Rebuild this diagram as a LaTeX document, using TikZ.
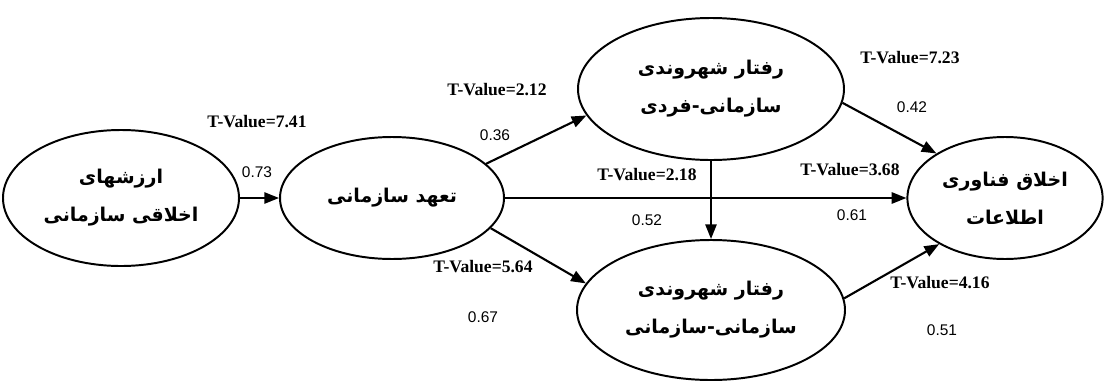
\documentclass[tikz,border=0pt]{standalone}
\usepackage{fontspec}
\setmainfont{Liberation Serif}
\newfontfamily\numfont{Liberation Sans}
\newfontfamily\arabicfont[Script=Arabic]{DejaVu Sans}
\TeXXeTstate=1
\usetikzlibrary{shapes.geometric,arrows.meta}
\tikzset{
	factor/.style={ellipse, draw, line width=1.4pt, inner sep=0pt, align=center, font=\arabicfont\bfseries\fontsize{13.5}{27}\selectfont},
	effect/.style={-{Triangle[length=10.5pt,width=8pt]}, line width=1.5pt},
	tval/.style={font=\bfseries\fontsize{12.5}{0}\selectfont},
	coef/.style={font=\numfont\fontsize{11}{0}\selectfont}
}
\begin{document}
\begin{tikzpicture}
		\useasboundingbox (0,0) rectangle (27.625,-9.55);

		\node[factor, minimum width=5.9cm, minimum height=3.4cm] (values) at (3.025,-4.95) {\beginR ارزشهای\endR\\\beginR اخلاقی سازمانی\endR};
		\node[factor, minimum width=5.6cm, minimum height=3.05cm] (commit) at (9.8,-4.95) {\beginR تعهد سازمانی\endR};
		\node[factor, minimum width=6.65cm, minimum height=3.55cm] (ocbi) at (17.775,-2.225) {\beginR رفتار شهروندی\endR\\\beginR سازمانی-فردی\endR};
		\node[factor, minimum width=6.7cm, minimum height=3.5cm] (ocbo) at (17.775,-7.75) {\beginR رفتار شهروندی\endR\\\beginR سازمانی-سازمانی\endR};
		\node[factor, minimum width=4.88cm, minimum height=3.05cm] (ethics) at (25.125,-4.95) {\beginR اخلاق فناوری\endR\\\beginR اطلاعات\endR};

		\draw[effect] (values.east) -- (commit.west);
		\draw[effect] (commit.20) -- (ocbi.192);
		\draw[effect] (commit.east) -- (ethics.west);
		\draw[effect] (commit.-17) -- (ocbo.168);
		\draw[effect] (ocbi.south) -- (ocbo.north);
		\draw[effect] (ocbi.-6) -- (ethics.147);
		\draw[effect] (ocbo.5) -- (ethics.215);

		\node[tval] (tv741) at (6.425,-3.05) {T-Value=7.41};
		\node[coef] (c073) at (6.425,-4.3) {0.73};
		\node[tval] (tv212) at (12.425,-2.25) {T-Value=2.12};
		\node[coef] (c036) at (12.375,-3.375) {0.36};
		\node[tval] (tv723) at (22.75,-1.45) {T-Value=7.23};
		\node[coef] (c042) at (22.8,-2.675) {0.42};
		\node[tval] (tv218) at (16.175,-4.375) {T-Value=2.18};
		\node[coef] (c052) at (16.175,-5.5) {0.52};
		\node[tval] (tv368) at (21.25,-4.25) {T-Value=3.68};
		\node[coef] (c061) at (21.3,-5.375) {0.61};
		\node[tval] (tv564) at (12.075,-6.675) {T-Value=5.64};
		\node[coef] (c067) at (12.075,-7.925) {0.67};
		\node[tval] (tv416) at (23.5,-7.075) {T-Value=4.16};
		\node[coef] (c051) at (23.55,-8.25) {0.51};
	\end{tikzpicture}
\end{document}
